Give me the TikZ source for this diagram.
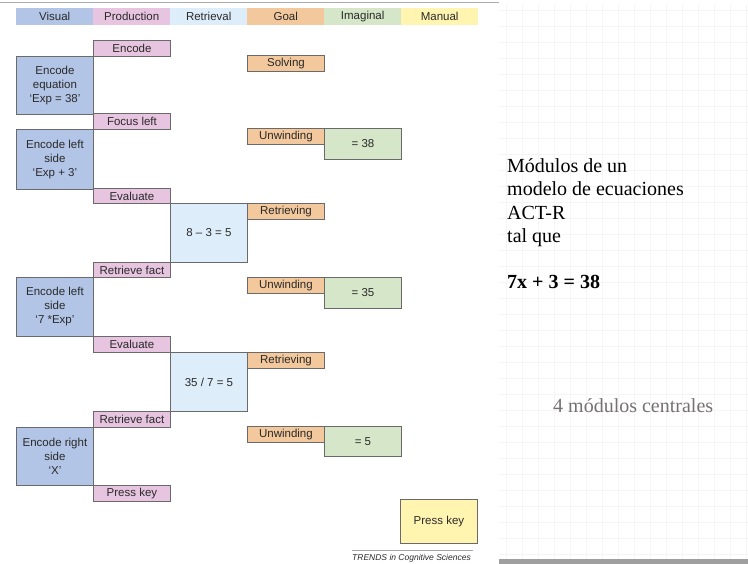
\documentclass[tikz,border=0pt]{standalone}
\usepackage{fontspec}
\setmainfont{Liberation Sans}
\newfontfamily\seriff{Liberation Serif}
\definecolor{visc}{HTML}{B2C5E6}
\definecolor{prodc}{HTML}{E7C4DF}
\definecolor{retrc}{HTML}{DDEDF9}
\definecolor{goalc}{HTML}{F2C89C}
\definecolor{imagc}{HTML}{D6E6C8}
\definecolor{manc}{HTML}{FFF4B0}
\definecolor{bordc}{HTML}{6A6A6A}
\definecolor{txtc}{HTML}{2A2A2A}
\definecolor{gridc}{HTML}{F5F5F5}
\definecolor{grayt}{HTML}{767171}
\begin{document}
\begin{tikzpicture}[x=1pt,y=-1pt,
  hdr/.style={anchor=north west, inner sep=0, minimum width=77, minimum height=17, text=txtc, font=\fontsize{11.5}{13}\selectfont},
  box/.style={draw=bordc, line width=0.9, anchor=north west, inner sep=0, minimum width=77, text=txtc, align=center, font=\fontsize{11.5}{14}\selectfont},
  vis/.style={box, fill=visc},
  prod/.style={box, fill=prodc},
  retr/.style={box, fill=retrc},
  goal/.style={box, fill=goalc},
  imag/.style={box, fill=imagc},
  man/.style={box, fill=manc},
  rtext/.style={anchor=base west, inner sep=0, font=\seriff\fontsize{20}{23.5}\selectfont}
]
\useasboundingbox (0,0) rectangle (748,564);
\fill[white] (0,0) rectangle (748,564);
% right slide grid
\foreach \gx in {506,522,...,746} \draw[gridc, line width=0.6] (\gx,5) -- (\gx,559);
\foreach \gy in {10,26,...,558} \draw[gridc, line width=0.6] (499,\gy) -- (748,\gy);
\fill[gray!75] (499,559) rectangle (748,564);
\draw[line width=1.5, color=gray!65] (0,2.5) -- (499,2.5);
% header
\node[hdr, fill=visc] (h1) at (16,8) {Visual};
\node[hdr, fill=prodc] (h2) at (93,8) {Production};
\node[hdr, fill=retrc] (h3) at (170,8) {Retrieval};
\node[hdr, fill=goalc] (h4) at (247,8) {Goal};
\node[hdr, fill=imagc] (h5) at (324,8) {Imaginal};
\node[hdr, fill=manc] (h6) at (401,8) {Manual};
% boxes
\node[prod, minimum height=16] (p1) at (93,40) {Encode};
\node[vis, minimum height=58] (v1) at (16,56) {Encode\\equation\\‘Exp = 38’};
\node[goal, minimum height=16] (g1) at (247,55) {Solving};
\node[prod, minimum height=16] (p2) at (93,113) {Focus left};
\node[vis, minimum height=60] (v2) at (16,129) {Encode left\\side\\‘Exp + 3’};
\node[goal, minimum height=16] (g2) at (247,128) {Unwinding};
\node[imag, minimum height=31] (i1) at (324,128) {= 38};
\node[prod, minimum height=15] (p3) at (93,188) {Evaluate};
\node[retr, minimum height=59] (r1) at (170,203) {8 – 3 = 5};
\node[goal, minimum height=16] (g3) at (247,203) {Retrieving};
\node[prod, minimum height=15] (p4) at (93,262) {Retrieve fact};
\node[vis, minimum height=59] (v3) at (16,277) {Encode left\\side\\‘7 *Exp’};
\node[goal, minimum height=16] (g4) at (247,277) {Unwinding};
\node[imag, minimum height=31] (i2) at (324,277) {= 35};
\node[prod, minimum height=16] (p5) at (93,336) {Evaluate};
\node[retr, minimum height=59] (r2) at (170,352) {35 / 7 = 5};
\node[goal, minimum height=16] (g5) at (247,352) {Retrieving};
\node[prod, minimum height=16] (p6) at (93,411) {Retrieve fact};
\node[vis, minimum height=58] (v4) at (16,427) {Encode right\\side\\‘X’};
\node[goal, minimum height=16] (g6) at (247,426) {Unwinding};
\node[imag, minimum height=30] (i3) at (324,426) {= 5};
\node[prod, minimum height=16] (p7) at (93,485) {Press key};
\node[man, minimum height=44] (m1) at (400,499) {Press key};
% source line
\coordinate (sl) at (352,550);
\coordinate (sr) at (473,550);
\draw[gray!70, line width=0.6] (sl) -- (sr);
\node[anchor=base west, inner sep=0, text=txtc, font=\itshape\fontsize{8.5}{10}\selectfont] (src) at (352,560) {TRENDS in Cognitive Sciences};
% right text
\node[rtext] (t1) at (507,173) {Módulos de un};
\node[rtext] (t2) at (507,196) {modelo de ecuaciones};
\node[rtext] (t3) at (507,219.5) {ACT-R};
\node[rtext] (t4) at (507,243) {tal que};
\node[rtext, font=\seriff\bfseries\fontsize{20}{23.5}\selectfont] (t5) at (507,289) {7x + 3 = 38};
\node[rtext, text=grayt] (t6) at (553,413) {4 módulos centrales};
\end{tikzpicture}
\end{document}
